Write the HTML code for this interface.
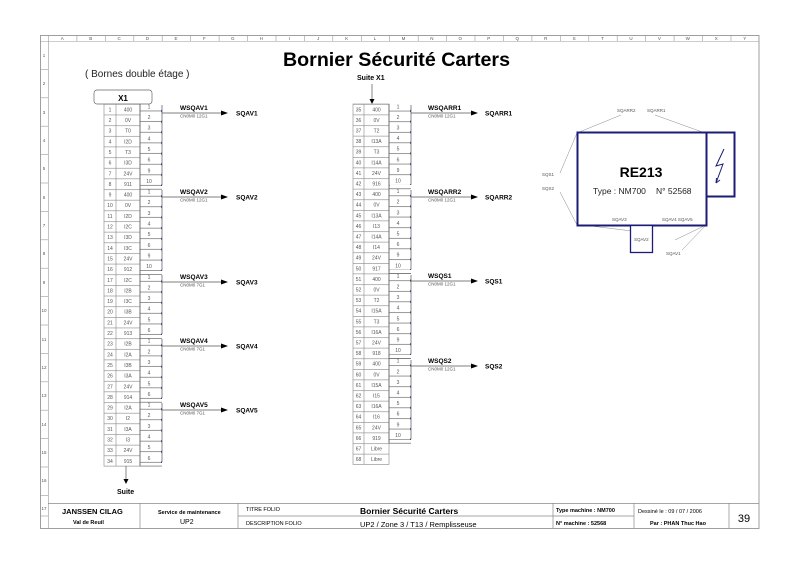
<!DOCTYPE html>
<html><head><meta charset="utf-8"><style>
html,body{margin:0;padding:0;background:#fff;}
svg{display:block;font-family:"Liberation Sans",sans-serif;}
.t{font-size:5px;fill:#444;}
.r{font-size:5px;fill:#555;text-anchor:middle;}
.w{font-size:6.5px;font-weight:bold;fill:#000;}
.c{font-size:4.5px;fill:#555;}
.s{font-size:6.5px;font-weight:bold;fill:#000;}
.re{font-size:4.5px;fill:#555;}
</style></head><body>
<svg width="800" height="565" viewBox="0 0 800 565" xmlns="http://www.w3.org/2000/svg">
<defs>
<pattern id="rowL" patternUnits="userSpaceOnUse" x="0" y="104" width="800" height="10.65"><line x1="0" y1="0.3" x2="800" y2="0.3" stroke="#888" stroke-width="0.6"/></pattern>
<pattern id="rowR" patternUnits="userSpaceOnUse" x="0" y="104" width="800" height="10.6"><line x1="0" y1="0.3" x2="800" y2="0.3" stroke="#888" stroke-width="0.6"/></pattern>
<pattern id="rowBL" patternUnits="userSpaceOnUse" x="0" y="104" width="800" height="10.65"><line x1="0" y1="7" x2="800" y2="7" stroke="#555" stroke-width="0.6"/><rect x="161" y="6" width="2" height="2" fill="#33a"/></pattern>
<pattern id="rowBR" patternUnits="userSpaceOnUse" x="0" y="104" width="800" height="10.6"><line x1="0" y1="7" x2="800" y2="7" stroke="#555" stroke-width="0.6"/><rect x="410" y="6" width="2" height="2" fill="#33a"/></pattern>
</defs>
<!-- frame -->
<rect x="40.5" y="35.5" width="718.5" height="493" fill="none" stroke="#888" stroke-width="0.8"/>
<line x1="40" y1="41.5" x2="759" y2="41.5" stroke="#999" stroke-width="0.6"/>
<line x1="48.5" y1="35" x2="48.5" y2="528" stroke="#999" stroke-width="0.6"/>
<g stroke="#999" stroke-width="0.6">
<line x1="76.9" y1="35" x2="76.9" y2="41"/><line x1="105.3" y1="35" x2="105.3" y2="41"/><line x1="133.8" y1="35" x2="133.8" y2="41"/><line x1="162.2" y1="35" x2="162.2" y2="41"/><line x1="190.7" y1="35" x2="190.7" y2="41"/><line x1="219.1" y1="35" x2="219.1" y2="41"/><line x1="247.5" y1="35" x2="247.5" y2="41"/><line x1="276" y1="35" x2="276" y2="41"/><line x1="304.4" y1="35" x2="304.4" y2="41"/><line x1="332.8" y1="35" x2="332.8" y2="41"/><line x1="361.3" y1="35" x2="361.3" y2="41"/><line x1="389.7" y1="35" x2="389.7" y2="41"/><line x1="418.2" y1="35" x2="418.2" y2="41"/><line x1="446.6" y1="35" x2="446.6" y2="41"/><line x1="475" y1="35" x2="475" y2="41"/><line x1="503.5" y1="35" x2="503.5" y2="41"/><line x1="531.9" y1="35" x2="531.9" y2="41"/><line x1="560.3" y1="35" x2="560.3" y2="41"/><line x1="588.8" y1="35" x2="588.8" y2="41"/><line x1="617.2" y1="35" x2="617.2" y2="41"/><line x1="645.7" y1="35" x2="645.7" y2="41"/><line x1="674.1" y1="35" x2="674.1" y2="41"/><line x1="702.5" y1="35" x2="702.5" y2="41"/><line x1="731" y1="35" x2="731" y2="41"/>
<line x1="40" y1="69.4" x2="48" y2="69.4"/><line x1="40" y1="97.8" x2="48" y2="97.8"/><line x1="40" y1="126.2" x2="48" y2="126.2"/><line x1="40" y1="154.6" x2="48" y2="154.6"/><line x1="40" y1="183" x2="48" y2="183"/><line x1="40" y1="211.4" x2="48" y2="211.4"/><line x1="40" y1="239.8" x2="48" y2="239.8"/><line x1="40" y1="268.2" x2="48" y2="268.2"/><line x1="40" y1="296.6" x2="48" y2="296.6"/><line x1="40" y1="325" x2="48" y2="325"/><line x1="40" y1="353.4" x2="48" y2="353.4"/><line x1="40" y1="381.8" x2="48" y2="381.8"/><line x1="40" y1="410.2" x2="48" y2="410.2"/><line x1="40" y1="438.6" x2="48" y2="438.6"/><line x1="40" y1="467" x2="48" y2="467"/><line x1="40" y1="495.4" x2="48" y2="495.4"/><line x1="40" y1="516" x2="48" y2="516"/>
</g>
<g class="r" style="font-size:4.5px">
<text x="62.2" y="40">A</text><text x="90.7" y="40">B</text><text x="119.1" y="40">C</text><text x="147.5" y="40">D</text><text x="176" y="40">E</text><text x="204.4" y="40">F</text><text x="232.8" y="40">G</text><text x="261.3" y="40">H</text><text x="289.7" y="40">I</text><text x="318.2" y="40">J</text><text x="346.6" y="40">K</text><text x="375" y="40">L</text><text x="403.5" y="40">M</text><text x="431.9" y="40">N</text><text x="460.3" y="40">O</text><text x="488.8" y="40">P</text><text x="517.2" y="40">Q</text><text x="545.7" y="40">R</text><text x="574.1" y="40">S</text><text x="602.5" y="40">T</text><text x="631" y="40">U</text><text x="659.4" y="40">V</text><text x="687.8" y="40">W</text><text x="716.3" y="40">X</text><text x="744.7" y="40">Y</text>
<text x="44" y="57">1</text><text x="44" y="85">2</text><text x="44" y="114">3</text><text x="44" y="142">4</text><text x="44" y="170">5</text><text x="44" y="199">6</text><text x="44" y="227">7</text><text x="44" y="255">8</text><text x="44" y="284">9</text><text x="44" y="312">10</text><text x="44" y="341">11</text><text x="44" y="369">12</text><text x="44" y="397">13</text><text x="44" y="426">14</text><text x="44" y="454">15</text><text x="44" y="482">16</text><text x="44" y="510">17</text>
</g>

<!-- titles -->
<text x="283" y="66" textLength="227" lengthAdjust="spacingAndGlyphs" style="font-size:19px;font-weight:bold">Bornier Sécurité Carters</text>
<text x="85" y="77" style="font-size:10px;fill:#222">( Bornes double étage )</text>

<!-- LEFT BLOCK -->
<rect x="94" y="90" width="58" height="14" rx="3" fill="#fff" stroke="#666" stroke-width="0.7"/>
<text x="123" y="101" text-anchor="middle" style="font-size:8px;font-weight:bold">X1</text>
<rect x="104" y="104" width="36" height="362.1" fill="url(#rowL)" stroke="#888" stroke-width="0.6"/>
<line x1="116" y1="104" x2="116" y2="466" stroke="#888" stroke-width="0.6"/>
<rect x="140" y="104" width="22" height="362.1" fill="url(#rowBL)"/>
<g fill="none" stroke="#555" stroke-width="0.7">
<path d="M140 104 V466 M162 105 V185.4 M162 190 V270.6 M162 275 V334 M162 339 V398 M162 403 V462"/>
<path d="M162 113 H222 M162 197 H222 M162 282 H222 M162 346 H222 M162 410 H222"/>
</g>
<g fill="#000"><path d="M221 110.5 L228 113 L221 115.5Z M221 194.5 L228 197 L221 199.5Z M221 279.5 L228 282 L221 284.5Z M221 343.5 L228 346 L221 348.5Z M221 407.5 L228 410 L221 412.5Z"/></g>
<g fill="#fff"><rect x="141" y="186" width="25" height="3"/><rect x="141" y="271" width="25" height="3"/><rect x="141" y="335" width="25" height="3"/><rect x="141" y="399" width="25" height="3"/><rect x="141" y="463" width="25" height="4"/></g>
<path d="M140 189.2 H162 M140 274.4 H162 M140 338.3 H162 M140 402.2 H162 M140 466.1 H162" stroke="#555" stroke-width="0.6"/>
<g class="w"><text x="180" y="110">WSQAV1</text><text x="180" y="194">WSQAV2</text><text x="180" y="279">WSQAV3</text><text x="180" y="343">WSQAV4</text><text x="180" y="407">WSQAV5</text></g>
<g class="c"><text x="180" y="117.5">CN0M0 12G1</text><text x="180" y="201.5">CN0M0 12G1</text><text x="180" y="286.5">CN0M0 7G1</text><text x="180" y="350.5">CN0M0 7G1</text><text x="180" y="414.5">CN0M0 7G1</text></g>
<g class="s"><text x="236" y="115.5">SQAV1</text><text x="236" y="199.5">SQAV2</text><text x="236" y="284.5">SQAV3</text><text x="236" y="348.5">SQAV4</text><text x="236" y="412.5">SQAV5</text></g>
<g class="r">
<text x="110" y="111.4">1</text><text x="110" y="122">2</text><text x="110" y="132.6">3</text><text x="110" y="143.3">4</text><text x="110" y="153.9">5</text><text x="110" y="164.6">6</text><text x="110" y="175.3">7</text><text x="110" y="185.9">8</text><text x="110" y="196.6">9</text><text x="110" y="207.2">10</text><text x="110" y="217.9">11</text><text x="110" y="228.5">12</text><text x="110" y="239.2">13</text><text x="110" y="249.8">14</text><text x="110" y="260.5">15</text><text x="110" y="271.1">16</text><text x="110" y="281.8">17</text><text x="110" y="292.4">18</text><text x="110" y="303.1">19</text><text x="110" y="313.7">20</text><text x="110" y="324.4">21</text><text x="110" y="335">22</text><text x="110" y="345.7">23</text><text x="110" y="356.3">24</text><text x="110" y="367">25</text><text x="110" y="377.6">26</text><text x="110" y="388.3">27</text><text x="110" y="398.9">28</text><text x="110" y="409.6">29</text><text x="110" y="420.2">30</text><text x="110" y="430.9">31</text><text x="110" y="441.5">32</text><text x="110" y="452.2">33</text><text x="110" y="462.8">34</text>
<text x="128" y="111.4">400</text><text x="128" y="122">0V</text><text x="128" y="132.6">T0</text><text x="128" y="143.3">I2D</text><text x="128" y="153.9">T3</text><text x="128" y="164.6">I3D</text><text x="128" y="175.3">24V</text><text x="128" y="185.9">911</text><text x="128" y="196.6">400</text><text x="128" y="207.2">0V</text><text x="128" y="217.9">I2D</text><text x="128" y="228.5">I2C</text><text x="128" y="239.2">I3D</text><text x="128" y="249.8">I3C</text><text x="128" y="260.5">24V</text><text x="128" y="271.1">912</text><text x="128" y="281.8">I2C</text><text x="128" y="292.4">I2B</text><text x="128" y="303.1">I3C</text><text x="128" y="313.7">I3B</text><text x="128" y="324.4">24V</text><text x="128" y="335">913</text><text x="128" y="345.7">I2B</text><text x="128" y="356.3">I2A</text><text x="128" y="367">I3B</text><text x="128" y="377.6">I3A</text><text x="128" y="388.3">24V</text><text x="128" y="398.9">914</text><text x="128" y="409.6">I2A</text><text x="128" y="420.2">I2</text><text x="128" y="430.9">I3A</text><text x="128" y="441.5">I3</text><text x="128" y="452.2">24V</text><text x="128" y="462.8">915</text>
<text x="149" y="108.5">1</text><text x="149" y="119">2</text><text x="149" y="129.6">3</text><text x="149" y="140.3">4</text><text x="149" y="150.9">5</text><text x="149" y="161.6">6</text><text x="149" y="172.3">9</text><text x="149" y="182.9">10</text>
<text x="149" y="193.6">1</text><text x="149" y="204.2">2</text><text x="149" y="214.9">3</text><text x="149" y="225.5">4</text><text x="149" y="236.2">5</text><text x="149" y="246.8">6</text><text x="149" y="257.5">9</text><text x="149" y="268.1">10</text>
<text x="149" y="278.8">1</text><text x="149" y="289.4">2</text><text x="149" y="300.1">3</text><text x="149" y="310.7">4</text><text x="149" y="321.4">5</text><text x="149" y="332">6</text>
<text x="149" y="342.7">1</text><text x="149" y="353.3">2</text><text x="149" y="364">3</text><text x="149" y="374.6">4</text><text x="149" y="385.3">5</text><text x="149" y="395.9">6</text>
<text x="149" y="406.6">1</text><text x="149" y="417.2">2</text><text x="149" y="427.9">3</text><text x="149" y="438.5">4</text><text x="149" y="449.2">5</text><text x="149" y="459.8">6</text>
</g>
<line x1="126" y1="466" x2="126" y2="480" stroke="#555" stroke-width="0.7"/>
<path d="M123.5 479 L126 484 L128.5 479Z" fill="#000"/>
<text x="117" y="494" style="font-size:7px;font-weight:bold">Suite</text>

<!-- RIGHT BLOCK -->
<text x="357" y="80" style="font-size:7px;font-weight:bold">Suite X1</text>
<line x1="372" y1="84" x2="372" y2="100" stroke="#555" stroke-width="0.7"/>
<path d="M369.5 99 L372 104 L374.5 99Z" fill="#000"/>
<rect x="353" y="104" width="36" height="360.4" fill="url(#rowR)" stroke="#888" stroke-width="0.6"/>
<line x1="364" y1="104" x2="364" y2="464.4" stroke="#888" stroke-width="0.6"/>
<rect x="389" y="104" width="22" height="339.2" fill="url(#rowBR)"/>
<g fill="#fff"><rect x="390" y="185" width="25" height="3"/><rect x="390" y="270" width="25" height="3"/><rect x="390" y="355" width="25" height="3"/><rect x="390" y="440" width="25" height="3"/></g>
<g fill="none" stroke="#555" stroke-width="0.7">
<path d="M389 104 V443.2 M411 105 V184.8 M411 190 V269.6 M411 275 V354.4 M411 360 V439.2"/>
<path d="M389 188.8 H411 M389 273.6 H411 M389 358.4 H411 M389 443.2 H411"/>
<path d="M411 113 H472 M411 197 H472 M411 281 H472 M411 366 H472"/>
</g>
<g fill="#000"><path d="M471 110.5 L478 113 L471 115.5Z M471 194.5 L478 197 L471 199.5Z M471 278.5 L478 281 L471 283.5Z M471 363.5 L478 366 L471 368.5Z"/></g>
<g class="w"><text x="428" y="110">WSQARR1</text><text x="428" y="194">WSQARR2</text><text x="428" y="278">WSQS1</text><text x="428" y="363">WSQS2</text></g>
<g class="c"><text x="428" y="117.5">CN0M0 12G1</text><text x="428" y="201.5">CN0M0 12G1</text><text x="428" y="285.5">CN0M0 12G1</text><text x="428" y="370.5">CN0M0 12G1</text></g>
<g class="s"><text x="485" y="115.5">SQARR1</text><text x="485" y="199.5">SQARR2</text><text x="485" y="283.5">SQS1</text><text x="485" y="368.5">SQS2</text></g>
<g class="r">
<text x="358.5" y="111.3">35</text><text x="358.5" y="121.9">36</text><text x="358.5" y="132.5">37</text><text x="358.5" y="143.1">38</text><text x="358.5" y="153.7">39</text><text x="358.5" y="164.3">40</text><text x="358.5" y="174.9">41</text><text x="358.5" y="185.5">42</text><text x="358.5" y="196.1">43</text><text x="358.5" y="206.7">44</text><text x="358.5" y="217.3">45</text><text x="358.5" y="227.9">46</text><text x="358.5" y="238.5">47</text><text x="358.5" y="249.1">48</text><text x="358.5" y="259.7">49</text><text x="358.5" y="270.3">50</text><text x="358.5" y="280.9">51</text><text x="358.5" y="291.5">52</text><text x="358.5" y="302.1">53</text><text x="358.5" y="312.7">54</text><text x="358.5" y="323.3">55</text><text x="358.5" y="333.9">56</text><text x="358.5" y="344.5">57</text><text x="358.5" y="355.1">58</text><text x="358.5" y="365.7">59</text><text x="358.5" y="376.3">60</text><text x="358.5" y="386.9">61</text><text x="358.5" y="397.5">62</text><text x="358.5" y="408.1">63</text><text x="358.5" y="418.7">64</text><text x="358.5" y="429.3">65</text><text x="358.5" y="439.9">66</text><text x="358.5" y="450.5">67</text><text x="358.5" y="461.1">68</text>
<text x="376.5" y="111.3">400</text><text x="376.5" y="121.9">0V</text><text x="376.5" y="132.5">T2</text><text x="376.5" y="143.1">I13A</text><text x="376.5" y="153.7">T3</text><text x="376.5" y="164.3">I14A</text><text x="376.5" y="174.9">24V</text><text x="376.5" y="185.5">916</text><text x="376.5" y="196.1">400</text><text x="376.5" y="206.7">0V</text><text x="376.5" y="217.3">I13A</text><text x="376.5" y="227.9">I13</text><text x="376.5" y="238.5">I14A</text><text x="376.5" y="249.1">I14</text><text x="376.5" y="259.7">24V</text><text x="376.5" y="270.3">917</text><text x="376.5" y="280.9">400</text><text x="376.5" y="291.5">0V</text><text x="376.5" y="302.1">T2</text><text x="376.5" y="312.7">I15A</text><text x="376.5" y="323.3">T3</text><text x="376.5" y="333.9">I16A</text><text x="376.5" y="344.5">24V</text><text x="376.5" y="355.1">918</text><text x="376.5" y="365.7">400</text><text x="376.5" y="376.3">0V</text><text x="376.5" y="386.9">I15A</text><text x="376.5" y="397.5">I15</text><text x="376.5" y="408.1">I16A</text><text x="376.5" y="418.7">I16</text><text x="376.5" y="429.3">24V</text><text x="376.5" y="439.9">919</text><text x="376.5" y="450.5">Libre</text><text x="376.5" y="461.1">Libre</text>
<text x="398" y="108.3">1</text><text x="398" y="118.9">2</text><text x="398" y="129.5">3</text><text x="398" y="140.1">4</text><text x="398" y="150.7">5</text><text x="398" y="161.3">6</text><text x="398" y="171.9">9</text><text x="398" y="182.5">10</text>
<text x="398" y="193.1">1</text><text x="398" y="203.7">2</text><text x="398" y="214.3">3</text><text x="398" y="224.9">4</text><text x="398" y="235.5">5</text><text x="398" y="246.1">6</text><text x="398" y="256.7">9</text><text x="398" y="267.3">10</text>
<text x="398" y="277.9">1</text><text x="398" y="288.5">2</text><text x="398" y="299.1">3</text><text x="398" y="309.7">4</text><text x="398" y="320.3">5</text><text x="398" y="330.9">6</text><text x="398" y="341.5">9</text><text x="398" y="352.1">10</text>
<text x="398" y="362.7">1</text><text x="398" y="373.3">2</text><text x="398" y="383.9">3</text><text x="398" y="394.5">4</text><text x="398" y="405.1">5</text><text x="398" y="415.7">6</text><text x="398" y="426.3">9</text><text x="398" y="436.9">10</text>
</g>

<!-- RE213 -->
<g stroke="#888" stroke-width="0.5" fill="none">
<path d="M577 133 L621 115 M705 133 L655 115 M577 133 L560 173 M577 225 L560 192 M583 225 L640 232 M706 225 L675 240 M706 225 L682 250"/>
</g>
<rect x="577.5" y="132.5" width="129" height="93" fill="#fff" stroke="#1c1c78" stroke-width="2"/>
<rect x="706.5" y="132.5" width="28" height="64" fill="#fff" stroke="#1c1c78" stroke-width="2"/>
<rect x="630.5" y="225.5" width="22" height="27" fill="#fff" stroke="#1c1c78" stroke-width="1.3"/>
<path d="M724 149 L716 166 L723 164 L716 183 M716 183 L716.5 178 M716 183 L720 180" fill="none" stroke="#1c1c78" stroke-width="1"/>
<text x="641" y="177" text-anchor="middle" style="font-size:14px;font-weight:bold">RE213</text>
<text x="593" y="194" style="font-size:8.5px;fill:#222">Type : NM700</text>
<text x="656" y="194" style="font-size:8.5px;fill:#222">N° 52568</text>
<g class="re">
<text x="617" y="112">SQARR2</text><text x="647" y="112">SQARR1</text>
<text x="542" y="176">SQS1</text><text x="542" y="190">SQS2</text>
<text x="612" y="221">SQAV3</text><text x="662" y="221">SQAV4 SQAV5</text>
<text x="634" y="241">SQAV2</text><text x="666" y="255">SQAV1</text>
</g>

<!-- title block -->
<g stroke="#888" stroke-width="0.7" fill="none">
<line x1="48" y1="503.5" x2="759" y2="503.5"/>
<line x1="140" y1="503" x2="140" y2="528"/>
<line x1="238" y1="503" x2="238" y2="528"/>
<line x1="553" y1="503" x2="553" y2="528"/>
<line x1="634" y1="503" x2="634" y2="528"/>
<line x1="729" y1="503" x2="729" y2="528"/>
<line x1="238" y1="516" x2="634" y2="516"/>
</g>
<text x="62" y="514" style="font-size:7.5px;font-weight:bold">JANSSEN  CILAG</text>
<text x="73" y="524" style="font-size:5.5px;font-weight:bold">Val de Reuil</text>
<text x="158" y="514" style="font-size:5.5px;font-weight:bold">Service de maintenance</text>
<text x="180" y="524" style="font-size:7px">UP2</text>
<text x="246" y="511" style="font-size:5.5px">TITRE FOLIO</text>
<text x="246" y="525" style="font-size:5.5px">DESCRIPTION FOLIO</text>
<text x="360" y="514" style="font-size:8.5px;font-weight:bold">Bornier Sécurité Carters</text>
<text x="360" y="527" style="font-size:7.5px">UP2 / Zone 3 / T13 /  Remplisseuse</text>
<text x="556" y="512" style="font-size:5.5px;font-weight:bold">Type machine : NM700</text>
<text x="556" y="525" style="font-size:5.5px;font-weight:bold">N° machine    :  52568</text>
<text x="638" y="513" style="font-size:5.5px">Dessiné le : 09 / 07 / 2006</text>
<text x="650" y="525" style="font-size:5.5px;font-weight:bold">Par : PHAN Thuc Hao</text>
<text x="744" y="522" text-anchor="middle" style="font-size:11px">39</text>
</svg>
</body></html>
